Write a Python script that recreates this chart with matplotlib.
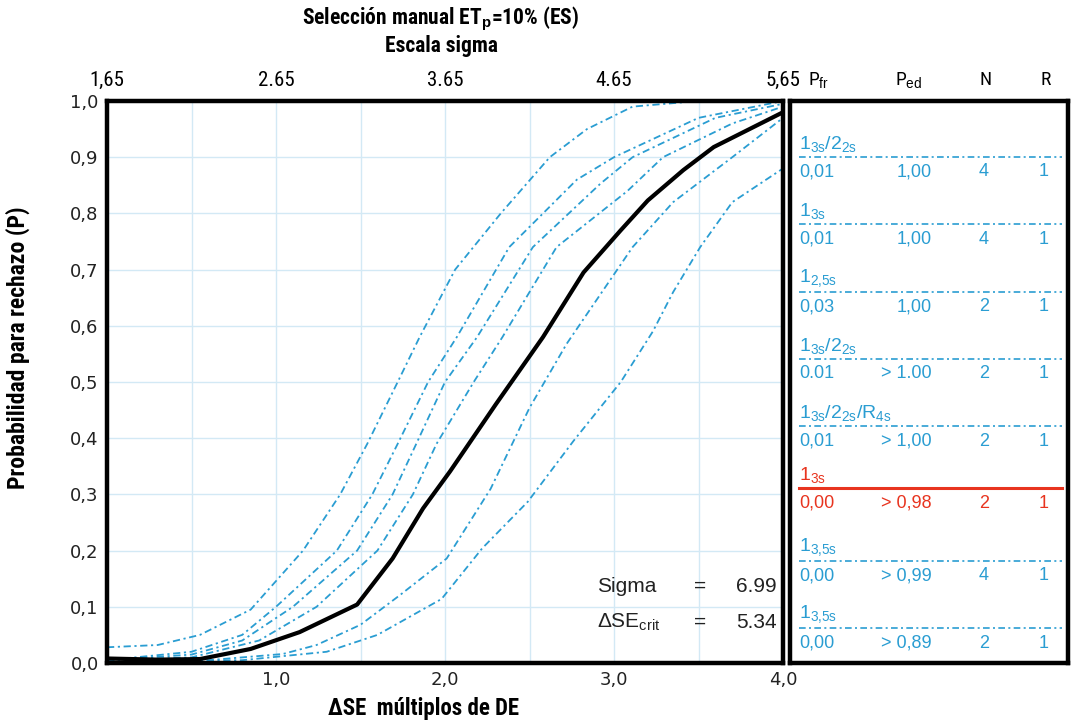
import numpy as np
import matplotlib
matplotlib.use("Agg")
import matplotlib.pyplot as plt
from matplotlib import font_manager as fm


def pick_font(names):
    for name in names:
        try:
            fm.findfont(fm.FontProperties(family=name), fallback_to_default=False)
            return name
        except Exception:
            pass
    return "DejaVu Sans"


NARROW = pick_font(["Liberation Sans Narrow", "Roboto Condensed", "DejaVu Sans"])
ARIAL = pick_font(["Liberation Sans", "Arial", "DejaVu Sans"])

plt.rcParams["mathtext.fontset"] = "custom"
plt.rcParams["mathtext.rm"] = ARIAL
plt.rcParams["mathtext.it"] = ARIAL + ":italic"
plt.rcParams["mathtext.bf"] = ARIAL + ":bold"

# ---- curves: delta SE (multiples of SD) vs probability of rejection ----
# selected rule (black)
sel_x = [0, 0.3, 0.55, 0.85, 1.14, 1.48, 1.69, 1.87, 2.03, 2.3, 2.58, 2.82, 3.04, 3.20, 3.41, 3.59, 4.0]
sel_p = [0.008, 0.006, 0.007, 0.025, 0.055, 0.104, 0.186, 0.275, 0.341, 0.46, 0.58, 0.695, 0.77, 0.823, 0.877, 0.918, 0.98]

# other candidate rules (blue)
l1_x = [0, 0.3, 0.55, 0.85, 1.16, 1.38, 1.54, 1.72, 1.85, 2.06, 2.33, 2.62, 2.84, 3.11, 3.5, 4.0]
l1_p = [0.028, 0.032, 0.05, 0.095, 0.20, 0.30, 0.39, 0.50, 0.58, 0.70, 0.80, 0.90, 0.95, 0.99, 1.0, 1.0]
l2_x = [0, 0.5, 0.8, 1.0, 1.36, 1.57, 1.72, 1.9, 2.07, 2.38, 2.78, 3.0, 3.5, 4.0]
l2_p = [0.005, 0.02, 0.05, 0.10, 0.20, 0.30, 0.39, 0.50, 0.58, 0.74, 0.86, 0.90, 0.97, 1.0]
l3_x = [0, 0.5, 0.8, 1.10, 1.48, 1.69, 1.83, 2.0, 2.19, 2.52, 2.92, 3.11, 3.6, 4.0]
l3_p = [0.005, 0.015, 0.04, 0.10, 0.20, 0.30, 0.39, 0.50, 0.58, 0.74, 0.853, 0.90, 0.97, 0.995]
l4_x = [0, 0.5, 0.9, 1.24, 1.60, 1.81, 1.95, 2.17, 2.34, 2.66, 3.08, 3.29, 3.7, 4.0]
l4_p = [0.005, 0.01, 0.04, 0.10, 0.20, 0.30, 0.39, 0.50, 0.58, 0.74, 0.84, 0.90, 0.96, 0.99]
r1_x = [0, 0.6, 1.04, 1.24, 1.50, 1.73, 2.01, 2.27, 2.50, 2.72, 3.11, 3.35, 3.70, 4.0]
r1_p = [0.003, 0.005, 0.016, 0.032, 0.068, 0.12, 0.186, 0.31, 0.454, 0.568, 0.74, 0.82, 0.90, 0.97]
r2_x = [0, 0.8, 1.3, 1.6, 1.98, 2.22, 2.49, 2.76, 3.04, 3.23, 3.35, 3.51, 3.70, 4.0]
r2_p = [0.002, 0.005, 0.02, 0.05, 0.114, 0.204, 0.287, 0.395, 0.50, 0.59, 0.66, 0.74, 0.82, 0.88]

blue_curves = [(l1_x, l1_p), (l2_x, l2_p), (l3_x, l3_p), (l4_x, l4_p), (r1_x, r1_p), (r2_x, r2_p)]

# ---- axis labels ----
bottom_ticks = [1, 2, 3, 4]
bottom_labels = ["1,0", "2,0", "3,0", "4,0"]
top_ticks = [0, 1, 2, 3, 4]
top_labels = ["1,65", "2.65", "3.65", "4.65", "5,65"]
y_ticks = np.round(np.arange(0, 1.01, 0.1), 1)
y_labels = [f"{v:.1f}".replace(".", ",") for v in y_ticks]

# ---- rule table ----
rules = [r"$\mathrm{1_{3s}/2_{2s}}$", r"$\mathrm{1_{3s}}$", r"$\mathrm{1_{2{,}5s}}$",
         r"$\mathrm{1_{3s}/2_{2s}}$", r"$\mathrm{1_{3s}/2_{2s}/R_{4s}}$", r"$\mathrm{1_{3s}}$",
         r"$\mathrm{1_{3{,}5s}}$", r"$\mathrm{1_{3{,}5s}}$"]
pfr = ["0,01", "0,01", "0,03", "0.01", "0,01", "0,00", "0,00", "0,00"]
ped = ["1,00", "1,00", "1,00", "> 1.00", "> 1,00", "> 0,98", "> 0,99", "> 0,89"]
n_vals = ["4", "4", "2", "2", "2", "2", "4", "2"]
r_vals = ["1", "1", "1", "1", "1", "1", "1", "1"]
selected = 5

BLUE = "#2a9dd2"
RED = "#e8341f"
GRID = "#d3e9f5"
INK = "#222222"
W, H = 1073, 722


def fx(px):
    return px / W


def fy(py):
    return 1 - py / H


fig = plt.figure(figsize=(W / 100, H / 100), dpi=100)

ax = fig.add_axes([fx(107), fy(663), (783 - 107) / W, (663 - 101) / H])
ax.set_xlim(0, 4)
ax.set_ylim(0, 1)
ax.set_xticks(np.arange(0, 4.01, 0.5), minor=True)
ax.set_yticks(y_ticks, y_labels, fontsize=13, color=INK)
ax.set_xticks(bottom_ticks, bottom_labels, fontsize=13, color=INK)
ax.grid(True, which="both", color=GRID, lw=1)
ax.set_axisbelow(True)
ax.tick_params(which="both", length=0, pad=6)
for s in ax.spines.values():
    s.set_linewidth(3.2)
    s.set_color("black")

dash = (0, (4, 2, 1.2, 2))
for cx, cp in blue_curves:
    ax.plot(cx, cp, color=BLUE, lw=1.3, linestyle=dash)
ax.plot(sel_x, sel_p, color="black", lw=3)

top = ax.secondary_xaxis("top")
top.set_xticks(top_ticks, top_labels)
top.tick_params(length=0, pad=8, labelsize=15)
for lab in top.get_xticklabels():
    lab.set_fontfamily(NARROW)
top.spines["top"].set_visible(False)

# Sigma box
fig.text(fx(597), fy(586), "Sigma", fontsize=15, family=ARIAL, va="center", color=INK)
fig.text(fx(700), fy(586), "=", fontsize=15, family=ARIAL, va="center", ha="center", color=INK)
fig.text(fx(777), fy(586), "6.99", fontsize=15, family=ARIAL, va="center", ha="right", color=INK)
fig.text(fx(597), fy(622), r"$\mathrm{\Delta SE_{crit}}$", fontsize=15, va="center", color=INK)
fig.text(fx(700), fy(622), "=", fontsize=15, family=ARIAL, va="center", ha="center", color=INK)
fig.text(fx(777), fy(622), "5.34", fontsize=15, family=ARIAL, va="center", ha="right", color=INK)

# titles and axis labels
fig.text(fx(441), fy(19), r"Selección manual ET$_\mathbf{p}$=10% (ES)", fontsize=15.5,
         family=NARROW, weight="bold", ha="center", va="center")
fig.text(fx(441), fy(46), "Escala sigma", fontsize=15.5, family=NARROW, weight="bold",
         ha="center", va="center")
fig.text(fx(423), fy(708), "ΔSE  múltiplos de DE", fontsize=16.5, family=NARROW,
         weight="bold", ha="center", va="center")
fig.text(fx(18), fy(348), "Probabilidad para rechazo (P)", fontsize=17, family=NARROW,
         weight="bold", ha="center", va="center", rotation=90)

# table headers
fig.text(fx(808), fy(80), r"P$_{\mathrm{fr}}$", fontsize=14, family=NARROW, va="center")
fig.text(fx(895), fy(80), r"P$_{\mathrm{ed}}$", fontsize=14, family=NARROW, va="center")
fig.text(fx(986), fy(80), "N", fontsize=14, family=NARROW, va="center", ha="center")
fig.text(fx(1046), fy(80), "R", fontsize=14, family=NARROW, va="center", ha="center")

# rule table panel
pan = fig.add_axes([fx(790), fy(663), (1068 - 790) / W, (663 - 101) / H])
pan.set_xlim(790, 1068)
pan.set_ylim(663, 101)
pan.set_xticks([])
pan.set_yticks([])
for s in pan.spines.values():
    s.set_linewidth(3.2)
    s.set_color("black")

row_gap = 67.3
for i in range(len(rules)):
    yl = 157 + i * row_gap
    if i == selected:
        yl = 488
        c, ls, lw = RED, "-", 2.2
    else:
        c, ls, lw = BLUE, dash, 1.2
    pan.plot([799, 1062], [yl, yl], color=c, lw=lw, linestyle=ls)
    pan.text(799, yl - 3, rules[i], color=c, fontsize=14, va="bottom")
    yv = yl + 15
    pan.text(799, yv, pfr[i], color=c, fontsize=13, family=ARIAL, va="center")
    pan.text(932, yv, ped[i], color=c, fontsize=13, family=ARIAL, va="center", ha="right")
    pan.text(984, yv, n_vals[i], color=c, fontsize=13, family=ARIAL, va="center", ha="center")
    pan.text(1044, yv, r_vals[i], color=c, fontsize=13, family=ARIAL, va="center", ha="center")

fig.savefig("out.png", dpi=100)
